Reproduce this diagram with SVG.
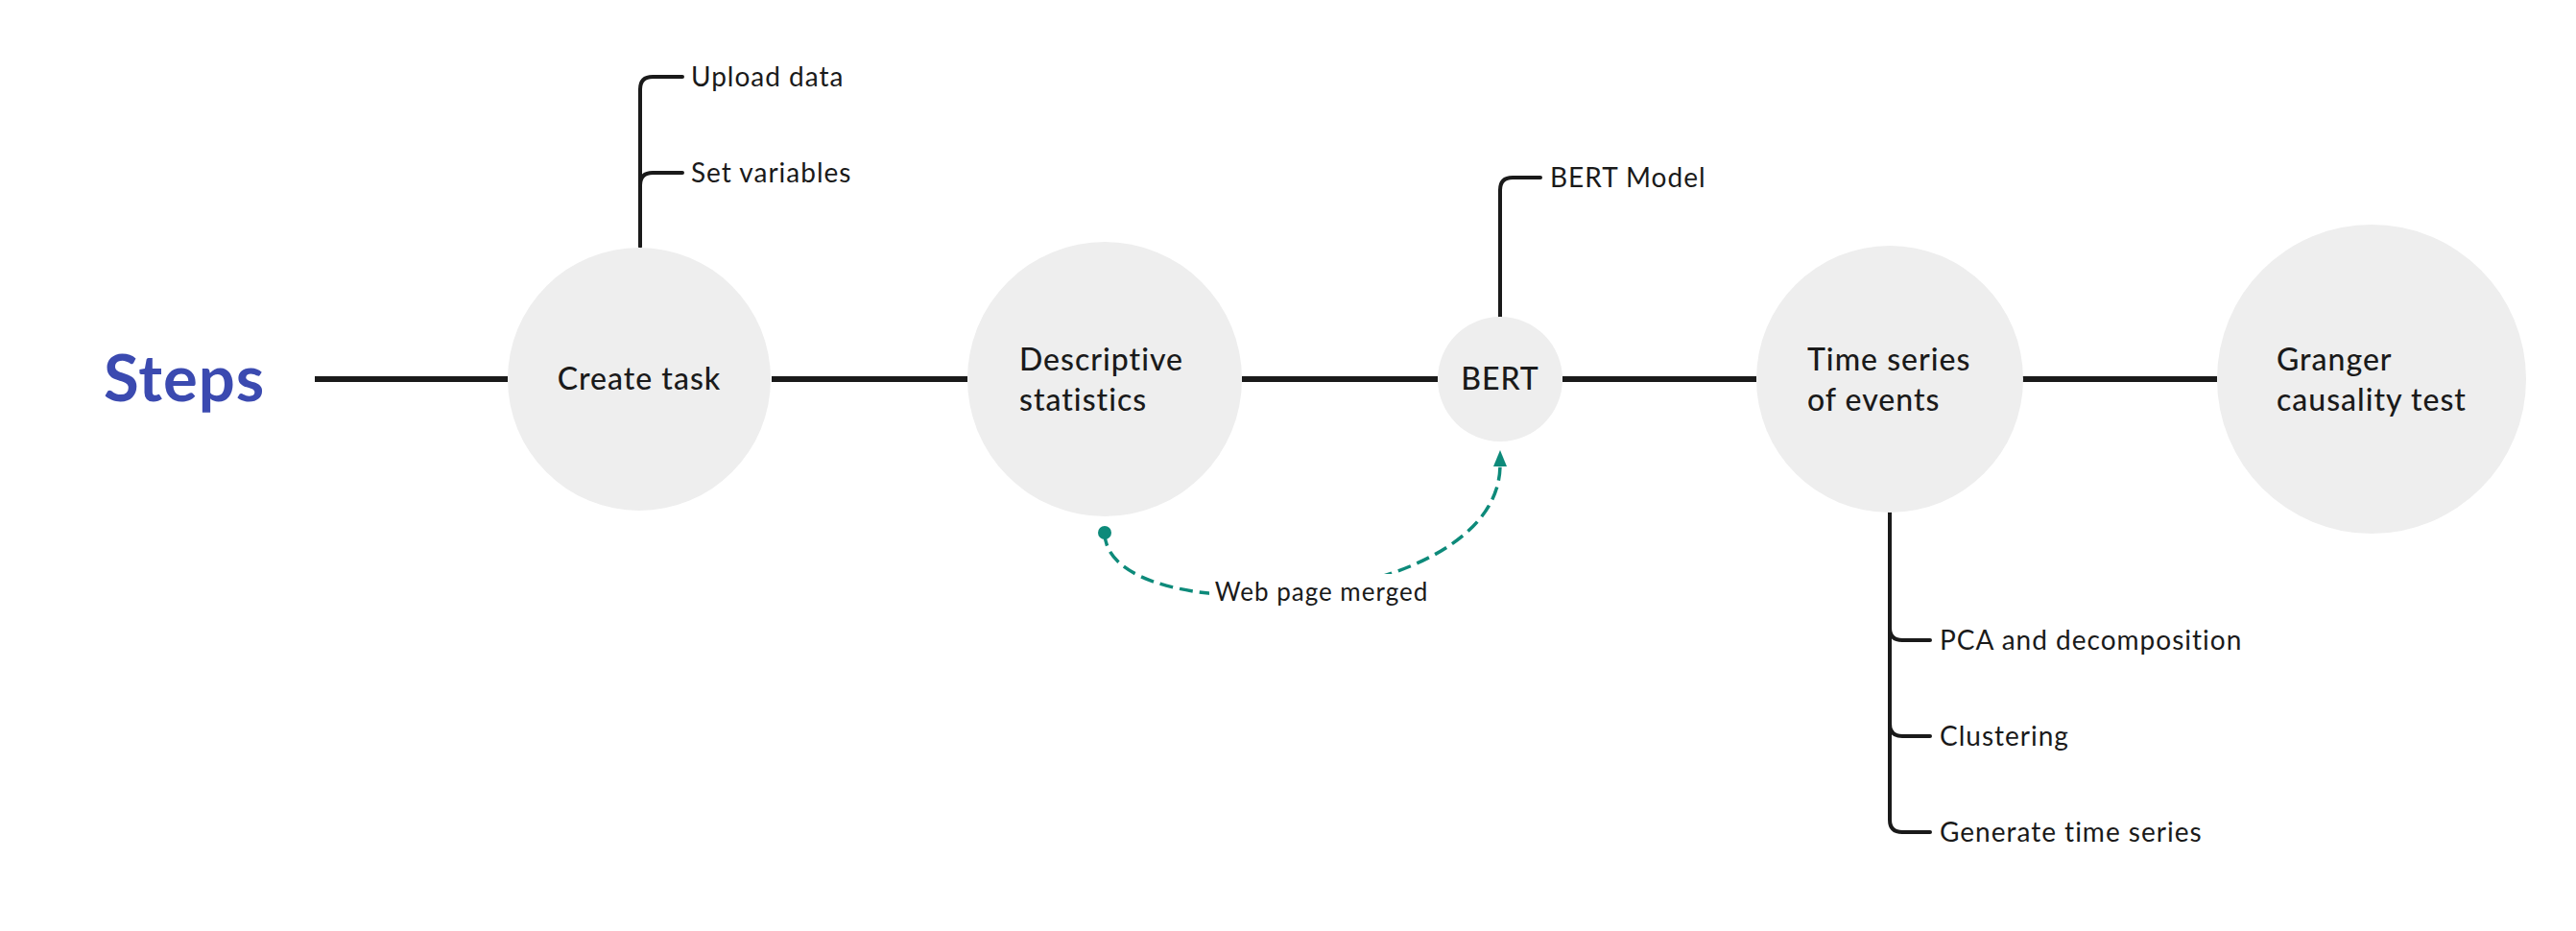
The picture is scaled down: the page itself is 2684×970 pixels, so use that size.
<svg xmlns="http://www.w3.org/2000/svg" width="2684" height="970" viewBox="0 0 2684 970">
<defs>
<style>
.bg{fill:#ffffff}
.node{fill:#eeeeee}
.main{stroke:#1a1a1a;stroke-width:6;fill:none}
.br{stroke:#1a1a1a;stroke-width:4;fill:none;stroke-linecap:round}
.t{font-family:Lato,"Open Sans","Liberation Sans",sans-serif;fill:#1a1a1a;letter-spacing:1px}
.tm{font-size:32px;font-weight:500}
.tc{font-size:28px}
.tr{font-size:26px}
.title{font-family:Lato,"Open Sans","Liberation Sans",sans-serif;font-size:67px;font-weight:bold;fill:#3b4ab0;letter-spacing:1px}
.rel{stroke:#0d8a7a;stroke-width:3.5;fill:none;stroke-dasharray:14 7}
</style>
</defs>
<rect class="bg" x="0" y="0" width="2684" height="970"/>

<g id="connectors">
<line class="main" x1="328" y1="395" x2="529" y2="395"/>
<line class="main" x1="804" y1="395" x2="1008" y2="395"/>
<line class="main" x1="1294" y1="395" x2="1498" y2="395"/>
<line class="main" x1="1628" y1="395" x2="1830" y2="395"/>
<line class="main" x1="2107" y1="395" x2="2310" y2="395"/>
<path class="br" d="M667,257 V93 Q667,80 680,80 H711"/>
<path class="br" d="M667,193 Q667,180 680,180 H711"/>
<path class="br" d="M1563,330 V198 Q1563,185 1576,185 H1605"/>
<path class="br" d="M1969,534 V854 Q1969,867 1982,867 H2011"/>
<path class="br" d="M1969,654 Q1969,667 1982,667 H2011"/>
<path class="br" d="M1969,754 Q1969,767 1982,767 H2011"/>
</g>

<g id="relationship">
<path class="rel" d="M1151,555 C1151,660 1563,640 1563,484"/>
<circle cx="1151" cy="555" r="7" fill="#0d8a7a"/>
<path d="M1563,469 L1556,486 L1570,486 z" fill="#0d8a7a"/>
<rect x="1260" y="598" width="236" height="36" fill="#ffffff"/>
<text class="t tr" x="1377" y="626" text-anchor="middle">Web page merged</text>
</g>

<g id="title">
<text class="title" x="108" y="418">Steps</text>
</g>

<g id="node-create-task">
<circle class="node" cx="666" cy="395" r="137"/>
<text class="t tm" x="666" y="406" text-anchor="middle">Create task</text>
</g>
<g id="node-upload-data">
<text class="t tc" x="720" y="90">Upload data</text>
</g>
<g id="node-set-variables">
<text class="t tc" x="720" y="190">Set variables</text>
</g>

<g id="node-descriptive">
<circle class="node" cx="1151" cy="395" r="143"/>
<text class="t tm" x="1062" y="386">Descriptive</text>
<text class="t tm" x="1062" y="428">statistics</text>
</g>

<g id="node-bert">
<circle class="node" cx="1563" cy="395" r="65"/>
<text class="t tm" x="1563" y="406" text-anchor="middle">BERT</text>
</g>
<g id="node-bert-model">
<text class="t tc" x="1615" y="195">BERT Model</text>
</g>

<g id="node-time-series">
<circle class="node" cx="1969" cy="395" r="139"/>
<text class="t tm" x="1883" y="386">Time series</text>
<text class="t tm" x="1883" y="428">of events</text>
</g>
<g id="node-pca">
<text class="t tc" x="2021" y="677">PCA and decomposition</text>
</g>
<g id="node-clustering">
<text class="t tc" x="2021" y="777">Clustering</text>
</g>
<g id="node-generate">
<text class="t tc" x="2021" y="877">Generate time series</text>
</g>

<g id="node-granger">
<circle class="node" cx="2471" cy="395" r="161"/>
<text class="t tm" x="2372" y="386">Granger</text>
<text class="t tm" x="2372" y="428">causality test</text>
</g>
</svg>
